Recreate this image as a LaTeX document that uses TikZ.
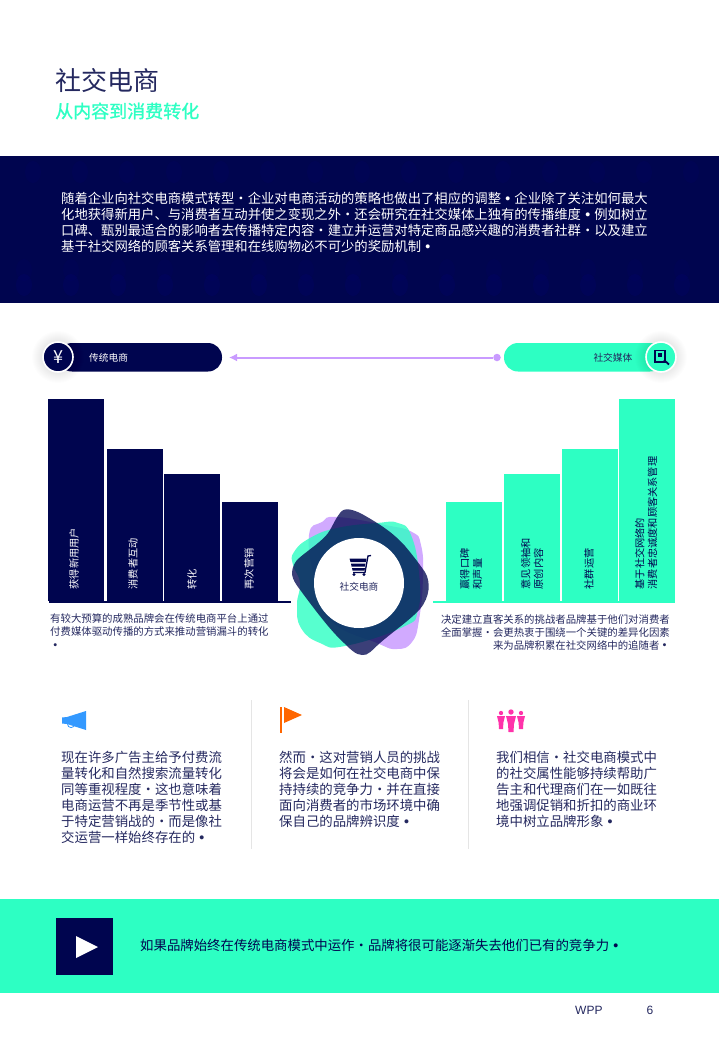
\documentclass[tikz,border=0pt]{standalone}
\usepackage{fontspec}
\usetikzlibrary{arrows.meta}
\setmainfont{Noto Sans CJK SC}
\newfontfamily\latinfont{Liberation Sans}
\definecolor{navy}{HTML}{00054F}
\definecolor{mint}{HTML}{2DFFC3}
\definecolor{lilac}{HTML}{C99BFF}
\definecolor{inktext}{HTML}{24285F}
\definecolor{hornblue}{HTML}{3399FF}
\definecolor{flagorange}{HTML}{FF6600}
\definecolor{crowdpink}{HTML}{FF33AA}
\newcommand{\mdot}{\makebox[1em]{·}}
\newcommand{\bdot}{\makebox[1em]{\raisebox{.2em}{\scalebox{.33}{●}}}}
\tikzset{
  barlabel/.style={rotate=90,anchor=west,align=left,inner sep=0pt,font=\fontsize{10.2}{12.8}\selectfont},
  capnote/.style={inner sep=0pt,text=inktext,font=\fontsize{10.4}{13}\selectfont},
  bodytext/.style={inner sep=0pt,anchor=north west,align=left,text=inktext,font=\fontsize{13.4}{16}\selectfont},
  pilltext/.style={inner sep=0pt,font=\fontsize{9.7}{12}\selectfont},
  badge/.style={circle,draw=white,line width=1.6pt,minimum size=30pt,inner sep=0pt},
}
\begin{document}
\begin{tikzpicture}[x=1pt,y=-1pt]
  \useasboundingbox (0,0) rectangle (719,1039);
  % heading
  \node[anchor=west,inner sep=0pt,text=inktext,font=\fontsize{26}{30}\selectfont] (title) at (55,81) {社交电商};
  \node[anchor=west,inner sep=0pt,text=mint,font=\fontsize{18}{22}\selectfont] (subtitle) at (55,111) {\addfontfeature{FakeBold=1.2}从内容到消费转化};
  % top band
  \fill[navy] (0,156) rectangle (719,303);
  \foreach \i in {0,...,15}
    \foreach \j/\k in {172/.05,285/.08,270/.04}
      \fill[blue!60!navy,opacity=\k] ({24+47*\i+mod(\j,3)*9},\j) ellipse (8 and 11);
  \node[bodytext,text=white,font=\fontsize{13.33}{16}\selectfont] (intro) at (61,192) {随着企业向社交电商模式转型\mdot 企业对电商活动的策略也做出了相应的调整\bdot 企业除了关注如何最大\\
  化地获得新用户、与消费者互动并使之变现之外\mdot 还会研究在社交媒体上独有的传播维度\bdot 例如树立\\
  口碑、甄别最适合的影响者去传播特定内容\mdot 建立并运营对特定商品感兴趣的消费者社群\mdot 以及建立\\
  基于社交网络的顾客关系管理和在线购物必不可少的奖励机制\bdot};
  % pills
  \fill[navy,rounded corners=14pt] (58,343) rectangle (222,371.5);
  \fill[mint,rounded corners=14pt] (504,343) rectangle (664,371.5);
  \foreach \r in {16,...,26}{
    \fill[black,opacity=.007] (58,357) circle (\r);
    \fill[black,opacity=.007] (661,357) circle (\r);
  }
  \node[badge,fill=navy] (yuan) at (58,357) {};
  \node[badge,fill=mint] (media) at (661,357) {};
  \node[text=white,inner sep=0pt,font=\fontsize{18}{18}\selectfont] at (yuan) {¥};
  \node[pilltext,anchor=west,text=white] (oldlabel) at (89,357.5) {传统电商};
  \node[pilltext,anchor=east,text=inktext] (newlabel) at (632.5,357.5) {社交媒体};
  % magnifier on document
  \draw[navy,line width=1.7pt] (655,350.5) rectangle (665,362);
  \fill[navy] (657.5,352.5) rectangle (661.5,357);
  \draw[navy,line width=1.8pt] (664,360) -- (669,364.5);
  % link between pills
  \coordinate (oldend) at (222,357.5);
  \node[circle,fill=lilac,minimum size=7.5pt,inner sep=0pt] (linkdot) at (497,357.5) {};
  \draw[lilac,line width=2pt,-{Latex[length=8pt,width=8pt]},shorten >=7pt] (linkdot) -- (oldend);
  % left bars
  \foreach \x/\top/\lab/\tx in {48/399/获得新用用户/74,107/449/消费者互动/133,164/474/转化/192,222/502/再次营销/249}{
    \fill[navy] (\x,\top) rectangle (\x+56,601);
    \node[barlabel,text=white] at (\tx,589.5) {\lab};
  }
  \draw[navy,line width=2pt] (49,601.5) -- (291,601.5);
  % right bars
  \foreach \x/\top/\lab/\tx in {446/502/{赢得口碑\\和声量}/471,504/474/{意见领袖和\\原创内容}/532,562/449/社群运营/589,619/399/{基于社交网络的\\消费者忠诚度和顾客关系管理}/646}{
    \fill[mint] (\x,\top) rectangle (\x+56,601);
    \node[barlabel,text=navy] at (\tx,589.5) {\lab};
  }
  \draw[mint,line width=2pt] (433,602) -- (675,602);
  % centre blobs
  \fill[lilac,opacity=.85] plot[smooth cycle,tension=.8] coordinates {(309,535) (322,522) (337,517) (385,525) (412,532) (421,545) (423,577) (419,620) (412,642) (397,649) (377,643) (330,620) (315,580)};
  \fill[mint,opacity=.8] plot[smooth cycle,tension=.8] coordinates {(294,552) (310,538) (337,528) (377,523) (398,523) (411,535) (419,573) (418,610) (403,627) (345,646) (320,643) (301,628) (297,605) (300,583) (293,565)};
  \fill[navy,opacity=.77] (340,513) .. controls (344,507) and (352,509) .. (362,514)
    .. controls (385,527) and (395,535) .. (405,546)
    .. controls (415,558) and (420,565) .. (425,572)
    .. controls (431,582) and (430,597) .. (420,609)
    .. controls (410,620) and (395,630) .. (380,643)
    .. controls (372,650) and (368,656) .. (362,655)
    .. controls (356,655) and (350,649) .. (343,642)
    .. controls (330,630) and (315,610) .. (298,587)
    .. controls (293,580) and (288,572) .. (297,560)
    .. controls (305,552) and (325,540) .. (330,530)
    .. controls (334,523) and (336,518) .. (340,513) -- cycle;
  \node[circle,fill=white,minimum size=90pt,inner sep=0pt] (hub) at (359,583) {};
  \node[pilltext,text=inktext] (hublabel) at (359,587) {社交电商};
  % cart
  \draw[navy,line width=1.3pt] (371,555.5) -- (368,556) -- (365,572.5) -- (353,572.5);
  \fill[navy] (349.5,558.5) -- (366.5,558.5) -- (366,562) -- (350.5,562) -- cycle (351,563.5) -- (365.5,563.5) -- (365,566.5) -- (351.5,566.5) -- cycle (352,568) -- (365,568) -- (364.5,570.5) -- (352.5,570.5) -- cycle;
  \fill[navy] (354,574.5) circle (1.7) (364,574.5) circle (1.7);
  % captions
  \node[capnote,anchor=north west,align=left] (oldnote) at (50,614) {有较大预算的成熟品牌会在传统电商平台上通过\\付费媒体驱动传播的方式来推动营销漏斗的转化\\\bdot};
  \node[capnote,anchor=north east,align=right] (newnote) at (670,614) {决定建立直客关系的挑战者品牌基于他们对消费者\\全面掌握\mdot 会更热衷于围绕一个关键的差异化因素\\来为品牌积累在社交网络中的追随者\bdot};
  % three columns
  \draw[black!10,line width=.8pt] (251,700) -- (251,849) (468,700) -- (468,849);
  \fill[hornblue] (62,717.5) -- (67,717) -- (86,711) -- (86,730) -- (67,724) -- (62,723.5) -- cycle;
  \draw[hornblue,line width=.8pt] (67.5,724) arc[start angle=180,end angle=0,radius=3.6];
  \fill[flagorange] (280,707) rectangle (282,733);
  \fill[flagorange] (284,707) -- (302,715) -- (284,723) -- cycle;
  \foreach \px/\py/\sc in {501/713/.8,511/712/1,521/713/.8}{
    \fill[crowdpink] (\px,\py) circle (2.7*\sc);
    \fill[crowdpink] (\px-5*\sc,\py+4*\sc) -- (\px+5*\sc,\py+4*\sc) -- (\px+3*\sc,\py+12*\sc) -- (\px+2.5*\sc,\py+20*\sc) -- (\px-2.5*\sc,\py+20*\sc) -- (\px-3*\sc,\py+12*\sc) -- cycle;
  }
  \node[bodytext] (colone) at (61,751) {现在许多广告主给予付费流\\量转化和自然搜索流量转化\\同等重视程度\mdot 这也意味着\\电商运营不再是季节性或基\\于特定营销战的\mdot 而是像社\\交运营一样始终存在的\bdot};
  \node[bodytext] (coltwo) at (279,751) {然而\mdot 这对营销人员的挑战\\将会是如何在社交电商中保\\持持续的竞争力\mdot 并在直接\\面向消费者的市场环境中确\\保自己的品牌辨识度\bdot};
  \node[bodytext] (colthree) at (496,751) {我们相信\mdot 社交电商模式中\\的社交属性能够持续帮助广\\告主和代理商们在一如既往\\地强调促销和折扣的商业环\\境中树立品牌形象\bdot};
  % bottom band
  \fill[mint] (0,899) rectangle (719,993);
  \fill[navy] (56,918) rectangle (113,975);
  \fill[white] (76,936) -- (98,947) -- (76,958) -- cycle;
  \node[bodytext,anchor=west,text=navy] (closing) at (140,945) {如果品牌始终在传统电商模式中运作\mdot 品牌将很可能逐渐失去他们已有的竞争力\bdot};
  % footer
  \node[anchor=west,inner sep=0pt,text=inktext,font=\latinfont\fontsize{12}{14}\selectfont] (brand) at (575,1010) {WPP};
  \node[anchor=west,inner sep=0pt,text=inktext,font=\latinfont\fontsize{12}{14}\selectfont] (page) at (646.5,1010) {6};
\end{tikzpicture}
\end{document}
